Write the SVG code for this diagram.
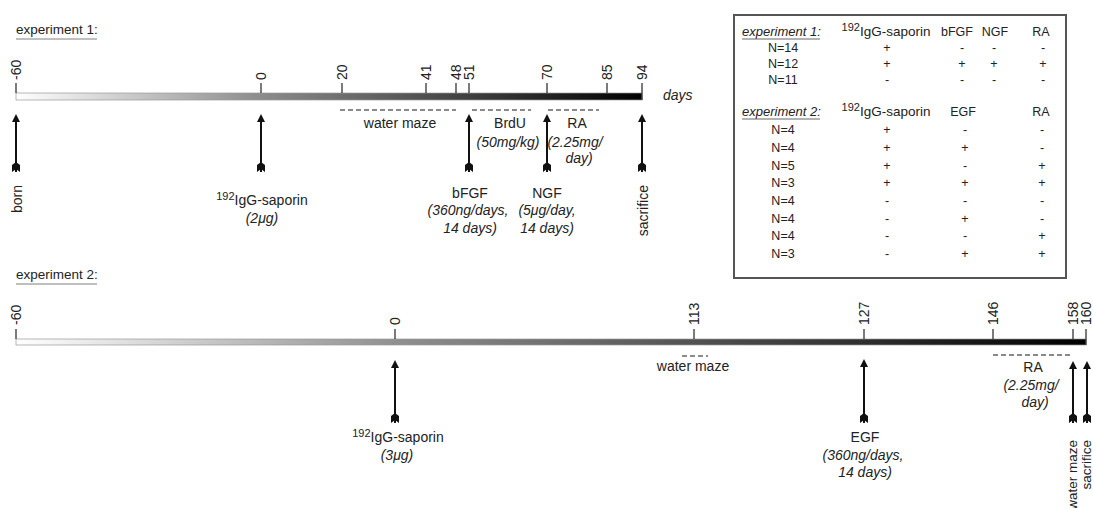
<svg xmlns="http://www.w3.org/2000/svg" width="1093" height="508" viewBox="0 0 1093 508">
<style>
text{font-family:"Liberation Sans",Arial,sans-serif;fill:#222;}
.lb{font-size:14px;}
.it{font-size:14px;font-style:italic;}
.tk{font-size:14px;}
.ttl{font-size:13.5px;}
.tb{font-size:12.5px;}
.tbi{font-size:13px;font-style:italic;}
.m{text-anchor:middle;}
.e{text-anchor:end;}
.tick{stroke:#333;stroke-width:1.3;}
.dash{stroke:#666;stroke-width:1.4;stroke-dasharray:5 3;fill:none;}
.ul{stroke:#aaa;stroke-width:1.5;}
.arr{stroke:#111;stroke-width:2;fill:none;marker-end:url(#head);marker-start:url(#tail);}
.bar{stroke:#999;stroke-width:0.7;}
</style>
<defs>
<linearGradient id="g1" x1="0" y1="0" x2="1" y2="0">
<stop offset="0" stop-color="#ffffff"/>
<stop offset="0.39" stop-color="#8c8c8c"/>
<stop offset="1" stop-color="#000000"/>
</linearGradient>
<linearGradient id="g2" x1="0" y1="0" x2="1" y2="0">
<stop offset="0" stop-color="#ffffff"/>
<stop offset="0.355" stop-color="#909090"/>
<stop offset="1" stop-color="#000000"/>
</linearGradient>
<marker id="head" markerUnits="userSpaceOnUse" viewBox="-8 -6 16 12" markerWidth="16" markerHeight="12" refX="0" refY="0" orient="auto" overflow="visible">
<path d="M3,0 L-5,-4 L-5,4 Z" fill="#111"/>
</marker>
<marker id="tail" markerUnits="userSpaceOnUse" viewBox="-2 -6 14 12" markerWidth="14" markerHeight="12" refX="0" refY="0" orient="auto" overflow="visible">
<path d="M0,-4 L3,0 L0,4 L7,4 L10,0 L7,-4 Z" fill="#111"/>
</marker>
</defs>

<!-- Experiment 1 timeline -->
<g id="exp1-title">
<text class="ttl" x="16" y="34">experiment 1:</text>
<line class="ul" x1="16" y1="39" x2="97" y2="39"/>
</g>
<g id="exp1-bar">
<rect class="bar" x="16" y="93" width="626" height="7" fill="url(#g1)"/>
<line class="tick" x1="16" y1="83" x2="16" y2="93"/>
<line class="tick" x1="261" y1="83" x2="261" y2="93"/>
<line class="tick" x1="342" y1="83" x2="342" y2="93"/>
<line class="tick" x1="426" y1="83" x2="426" y2="93"/>
<line class="tick" x1="456" y1="83" x2="456" y2="93"/>
<line class="tick" x1="469" y1="83" x2="469" y2="93"/>
<line class="tick" x1="547" y1="83" x2="547" y2="93"/>
<line class="tick" x1="607" y1="83" x2="607" y2="93"/>
<line class="tick" x1="642" y1="83" x2="642" y2="100"/>
<text class="tk" transform="translate(21,80) rotate(-90)">-60</text>
<text class="tk" transform="translate(266,80) rotate(-90)">0</text>
<text class="tk" transform="translate(347,80) rotate(-90)">20</text>
<text class="tk" transform="translate(431,80) rotate(-90)">41</text>
<text class="tk" transform="translate(461,80) rotate(-90)">48</text>
<text class="tk" transform="translate(474,80) rotate(-90)">51</text>
<text class="tk" transform="translate(552,80) rotate(-90)">70</text>
<text class="tk" transform="translate(612,80) rotate(-90)">85</text>
<text class="tk" transform="translate(647,80) rotate(-90)">94</text>
<text class="it" x="663" y="100">days</text>
</g>
<g id="exp1-periods">
<line class="dash" x1="340" y1="110" x2="456" y2="110"/>
<line class="dash" x1="472" y1="110" x2="531" y2="110"/>
<line class="dash" x1="548" y1="110" x2="599" y2="110"/>
<text class="lb m" x="400" y="128">water maze</text>
<text class="lb m" x="510" y="128">BrdU</text>
<text class="it m" x="508" y="147">(50mg/kg)</text>
<text class="lb m" x="577" y="128">RA</text>
<text class="it m" x="575" y="147">(2.25mg/</text>
<text class="it m" x="579" y="163">day)</text>
</g>
<g id="exp1-born">
<text class="lb e" transform="translate(22,185) rotate(-90)">born</text>
</g>
<g id="exp1-saporin">
<text class="lb m" x="262" y="205"><tspan font-size="11" dy="-5">192</tspan><tspan dy="5">IgG-saporin</tspan></text>
<text class="it m" x="262" y="223">(2μg)</text>
</g>
<g id="exp1-bfgf">
<text class="lb m" x="470" y="198">bFGF</text>
<text class="it m" x="468" y="215">(360ng/days,</text>
<text class="it m" x="470" y="233">14 days)</text>
</g>
<g id="exp1-ngf">
<text class="lb m" x="547" y="198">NGF</text>
<text class="it m" x="547" y="215">(5μg/day,</text>
<text class="it m" x="547" y="233">14 days)</text>
</g>
<g id="exp1-sacrifice">
<text class="lb e" transform="translate(648,185) rotate(-90)">sacrifice</text>
</g>

<!-- Experiment 2 timeline -->
<g id="exp2-title">
<text class="ttl" x="16" y="279">experiment 2:</text>
<line class="ul" x1="16" y1="284" x2="97" y2="284"/>
</g>
<g id="exp2-bar">
<rect class="bar" x="16" y="339" width="1070" height="6" fill="url(#g2)"/>
<line class="tick" x1="16" y1="329" x2="16" y2="339"/>
<line class="tick" x1="395" y1="329" x2="395" y2="339"/>
<line class="tick" x1="694" y1="329" x2="694" y2="339"/>
<line class="tick" x1="864" y1="329" x2="864" y2="339"/>
<line class="tick" x1="993" y1="329" x2="993" y2="339"/>
<line class="tick" x1="1073" y1="329" x2="1073" y2="339"/>
<line class="tick" x1="1086" y1="329" x2="1086" y2="345"/>
<text class="tk" transform="translate(21,325) rotate(-90)">-60</text>
<text class="tk" transform="translate(400,325) rotate(-90)">0</text>
<text class="tk" transform="translate(699,325) rotate(-90)">113</text>
<text class="tk" transform="translate(869,325) rotate(-90)">127</text>
<text class="tk" transform="translate(998,325) rotate(-90)">146</text>
<text class="tk" transform="translate(1078,325) rotate(-90)">158</text>
<text class="tk" transform="translate(1091,325) rotate(-90)">160</text>
</g>
<g id="exp2-periods">
<line class="dash" x1="682" y1="356" x2="708" y2="356"/>
<line class="dash" x1="993" y1="355" x2="1073" y2="355"/>
<text class="lb m" x="693" y="371">water maze</text>
<text class="lb m" x="1033" y="372">RA</text>
<text class="it m" x="1031" y="390">(2.25mg/</text>
<text class="it m" x="1035" y="407">day)</text>
</g>
<g id="exp2-saporin">
<text class="lb m" x="398" y="442"><tspan font-size="11" dy="-5">192</tspan><tspan dy="5">IgG-saporin</tspan></text>
<text class="it m" x="397" y="460">(3μg)</text>
</g>
<g id="exp2-egf">
<text class="lb m" x="865" y="442">EGF</text>
<text class="it m" x="863" y="460">(360ng/days,</text>
<text class="it m" x="865" y="477">14 days)</text>
</g>
<g id="exp2-watermaze">
<text class="e" font-size="13.5" transform="translate(1077,440) rotate(-90)">water maze</text>
</g>
<g id="exp2-sacrifice">
<text class="e" font-size="13.5" transform="translate(1091,440) rotate(-90)">sacrifice</text>
</g>

<!-- Connectors (arrows) -->
<g id="connectors">
<path class="arr" d="M16,172 L16,117"/>
<path class="arr" d="M261,172 L261,117"/>
<path class="arr" d="M469,172 L469,117"/>
<path class="arr" d="M547,172 L547,117"/>
<path class="arr" d="M642,172 L642,117"/>
<path class="arr" d="M395,423 L395,363"/>
<path class="arr" d="M864,423 L864,362"/>
<path class="arr" d="M1073,423 L1073,364"/>
<path class="arr" d="M1087,423 L1087,364"/>
</g>

<!-- Table -->
<g id="table">
<rect x="734" y="15" width="332" height="263" fill="#fff" stroke="#555" stroke-width="2"/>
<text class="tbi" x="742" y="36">experiment 1:</text>
<line x1="742" y1="39" x2="820" y2="39" stroke="#666" stroke-width="1"/>
<text class="tb m" x="886" y="36"><tspan font-size="11" dy="-5">192</tspan><tspan dy="5" font-size="13.5">IgG-saporin</tspan></text>
<text class="tb m" x="957" y="36" font-size="13">bFGF</text>
<text class="tb m" x="995" y="36" font-size="13">NGF</text>
<text class="tb m" x="1041" y="36" font-size="13">RA</text>
<text class="tb m" x="783" y="52">N=14</text><text class="tb m" x="887" y="52">+</text><text class="tb m" x="962" y="52">-</text><text class="tb m" x="994" y="52">-</text><text class="tb m" x="1043" y="52">-</text>
<text class="tb m" x="783" y="68">N=12</text><text class="tb m" x="887" y="68">+</text><text class="tb m" x="962" y="68">+</text><text class="tb m" x="994" y="68">+</text><text class="tb m" x="1043" y="68">+</text>
<text class="tb m" x="783" y="84">N=11</text><text class="tb m" x="887" y="84">-</text><text class="tb m" x="962" y="84">-</text><text class="tb m" x="994" y="84">-</text><text class="tb m" x="1043" y="84">-</text>
<text class="tbi" x="742" y="116">experiment 2:</text>
<line x1="742" y1="119" x2="820" y2="119" stroke="#666" stroke-width="1"/>
<text class="tb m" x="886" y="116"><tspan font-size="11" dy="-5">192</tspan><tspan dy="5" font-size="13.5">IgG-saporin</tspan></text>
<text class="tb m" x="963" y="116" font-size="13">EGF</text>
<text class="tb m" x="1041" y="116" font-size="13">RA</text>
<text class="tb m" x="783" y="134">N=4</text><text class="tb m" x="887" y="134">+</text><text class="tb m" x="965" y="134">-</text><text class="tb m" x="1042" y="134">-</text>
<text class="tb m" x="783" y="152">N=4</text><text class="tb m" x="887" y="152">+</text><text class="tb m" x="965" y="152">+</text><text class="tb m" x="1042" y="152">-</text>
<text class="tb m" x="783" y="169.5">N=5</text><text class="tb m" x="887" y="169.5">+</text><text class="tb m" x="965" y="169.5">-</text><text class="tb m" x="1042" y="169.5">+</text>
<text class="tb m" x="783" y="187">N=3</text><text class="tb m" x="887" y="187">+</text><text class="tb m" x="965" y="187">+</text><text class="tb m" x="1042" y="187">+</text>
<text class="tb m" x="783" y="205">N=4</text><text class="tb m" x="887" y="205">-</text><text class="tb m" x="965" y="205">-</text><text class="tb m" x="1042" y="205">-</text>
<text class="tb m" x="783" y="222.5">N=4</text><text class="tb m" x="887" y="222.5">-</text><text class="tb m" x="965" y="222.5">+</text><text class="tb m" x="1042" y="222.5">-</text>
<text class="tb m" x="783" y="240">N=4</text><text class="tb m" x="887" y="240">-</text><text class="tb m" x="965" y="240">-</text><text class="tb m" x="1042" y="240">+</text>
<text class="tb m" x="783" y="258">N=3</text><text class="tb m" x="887" y="258">-</text><text class="tb m" x="965" y="258">+</text><text class="tb m" x="1042" y="258">+</text>
</g>
</svg>
